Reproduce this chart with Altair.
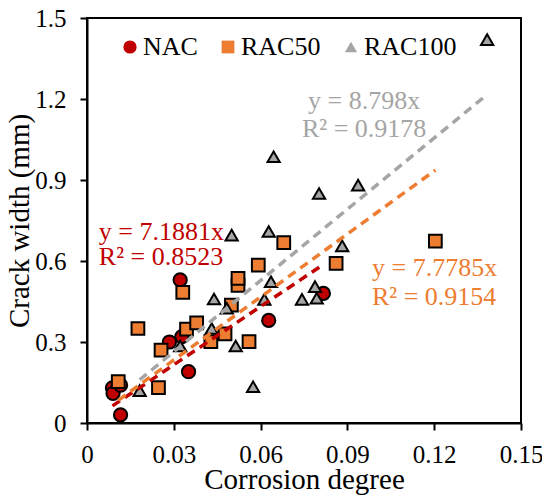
import altair as alt
import pandas as pd

# ---- data ----
series_names = ["NAC", "RAC50", "RAC100"]
series_colors = ["#C00000", "#ED7D31", "#A5A5A5"]
series_shapes = ["circle", "square", "triangle-up"]
series_sizes = [175, 150, 270]

nac_x = [0.0088, 0.0090, 0.0116, 0.0116, 0.0285, 0.0328, 0.0322, 0.0351, 0.0628, 0.0817]
nac_y = [0.13, 0.11, 0.14, 0.03, 0.30, 0.32, 0.53, 0.19, 0.38, 0.48]

rac50_x = [0.0108, 0.0176, 0.0247, 0.0256, 0.0331, 0.0344, 0.0379, 0.0428, 0.0477,
           0.0499, 0.0522, 0.0522, 0.0560, 0.0592, 0.0680, 0.0861, 0.1204]
rac50_y = [0.153, 0.35, 0.131, 0.27, 0.484, 0.348, 0.371, 0.301, 0.33,
           0.437, 0.51, 0.536, 0.301, 0.585, 0.668, 0.591, 0.674]

rac100_x = [0.0182, 0.0322, 0.0431, 0.0439, 0.0483, 0.0500, 0.0514, 0.0574, 0.0613, 0.0628,
            0.0636, 0.0645, 0.0743, 0.0788, 0.0794, 0.0802, 0.0882, 0.0937, 0.1383]
rac100_y = [0.12, 0.285, 0.35, 0.459, 0.425, 0.696, 0.285, 0.134, 0.458, 0.709,
            0.523, 0.986, 0.458, 0.505, 0.462, 0.85, 0.656, 0.881, 1.42]

slopes = [7.1881, 7.7785, 8.798]
r2_values = ["0.8523", "0.9154", "0.9178"]
slope_labels = ["7.1881", "7.7785", "8.798"]

# annotation anchors (data coords) and alignment
ann_x = [0.0041, 0.0985, 0.0958]
ann_y1 = [0.707, 0.573, 1.193]
ann_y2 = [0.613, 0.466, 1.090]
ann_align = ["left", "left", "center"]

x_ticks = [0, 0.03, 0.06, 0.09, 0.12, 0.15]
y_ticks = [0, 0.3, 0.6, 0.9, 1.2, 1.5]

FONT = "Liberation Serif"

# ---- tables ----
xs = [nac_x, rac50_x, rac100_x]
ys = [nac_y, rac50_y, rac100_y]
rows = []
for i, (name, sx, sy) in enumerate(zip(series_names, xs, ys)):
    for a, b in zip(sx, sy):
        rows.append({"series": name, "x": a, "y": b, "ord": i})
pts = pd.DataFrame(rows)

lrows = []
for name, col, k, sx in zip(series_names, series_colors, slopes, xs):
    for xv in (min(sx), max(sx)):
        lrows.append({"series": name, "hex": col, "x": xv, "y": k * xv})
lines = pd.DataFrame(lrows)

trows = []
for i, name in enumerate(series_names):
    trows.append({"x": ann_x[i], "y": ann_y1[i], "t": f"y = {slope_labels[i]}x",
                  "hex": series_colors[i], "al": ann_align[i]})
    trows.append({"x": ann_x[i], "y": ann_y2[i], "t": f"R² = {r2_values[i]}",
                  "hex": series_colors[i], "al": ann_align[i]})
texts = pd.DataFrame(trows)

xscale = alt.Scale(domain=[0, 0.15], nice=False, zero=True)
yscale = alt.Scale(domain=[0, 1.5], nice=False, zero=True)

xaxis = alt.Axis(values=x_ticks, title="Corrosion degree", grid=False,
                 labelExpr="datum.value == 0 ? '0' : format(datum.value, '.2f')",
                 labelFlush=False, labelOverlap=False, tickSize=7, tickWidth=2,
                 domainWidth=2, domainColor="black", tickColor="black",
                 labelFont=FONT, labelFontSize=25, labelColor="black", labelPadding=12,
                 titleFont=FONT, titleFontSize=29, titleFontWeight="normal",
                 titleColor="black", titlePadding=-2)
yaxis = alt.Axis(values=y_ticks, title="Crack width (mm)", grid=False,
                 labelExpr="datum.value == 0 ? '0' : format(datum.value, '.1f')",
                 labelFlush=False, labelOverlap=False, tickSize=7, tickWidth=2,
                 domainWidth=2, domainColor="black", tickColor="black",
                 labelFont=FONT, labelFontSize=25, labelColor="black", labelPadding=14,
                 titleFont=FONT, titleFontSize=29, titleFontWeight="normal",
                 titleColor="black", titlePadding=0)

leg = alt.Legend(title=None, orient="none", direction="horizontal",
                 legendX=30, legendY=16,
                 labelFont=FONT, labelFontSize=26, labelColor="black",
                 symbolStrokeWidth=2,
                 symbolStrokeColor="black", symbolOpacity=1,
                 columnPadding=17, labelOffset=0, padding=0)

points = alt.Chart(pts).mark_point(filled=True, opacity=1, stroke="black",
                                   strokeWidth=2).encode(
    x=alt.X("x:Q", scale=xscale, axis=xaxis),
    y=alt.Y("y:Q", scale=yscale, axis=yaxis),
    color=alt.Color("series:N",
                    scale=alt.Scale(domain=series_names, range=series_colors),
                    legend=leg),
    shape=alt.Shape("series:N",
                    scale=alt.Scale(domain=series_names, range=series_shapes),
                    legend=leg),
    size=alt.Size("series:N",
                  scale=alt.Scale(domain=series_names, range=series_sizes),
                  legend=leg),
    order=alt.Order("ord:Q"),
)

trend = alt.Chart(lines).mark_line(strokeDash=[9, 6], strokeWidth=3.5).encode(
    x=alt.X("x:Q", scale=xscale),
    y=alt.Y("y:Q", scale=yscale),
    detail="series:N",
    color=alt.Color("hex:N", scale=None, legend=None),
)

ann_left = alt.Chart(texts).transform_filter(alt.datum.al == "left").mark_text(
    font=FONT, fontSize=26, baseline="middle", align="left").encode(
    x=alt.X("x:Q", scale=xscale),
    y=alt.Y("y:Q", scale=yscale),
    text="t:N",
    color=alt.Color("hex:N", scale=None, legend=None),
)
ann_center = alt.Chart(texts).transform_filter(alt.datum.al == "center").mark_text(
    font=FONT, fontSize=26, baseline="middle", align="center").encode(
    x=alt.X("x:Q", scale=xscale),
    y=alt.Y("y:Q", scale=yscale),
    text="t:N",
    color=alt.Color("hex:N", scale=None, legend=None),
)

chart = alt.layer(points, trend, ann_left, ann_center).properties(
    width=434, height=405,
    autosize=alt.AutoSizeParams(type="none"),
    padding={"left": 79, "top": 10, "right": 21, "bottom": 73},
    background="white",
).configure_view(stroke="black", strokeWidth=2)

chart.save("out.html", embed_options={"renderer": "svg", "actions": False})
